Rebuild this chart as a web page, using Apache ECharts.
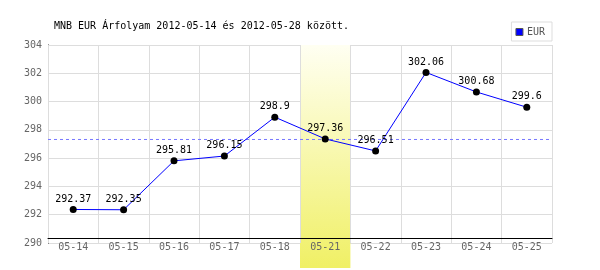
<!DOCTYPE html>
<html>
<head>
<meta charset="utf-8">
<script src="https://cdn.jsdelivr.net/npm/echarts@6/dist/echarts.min.js"></script>
<style>html,body{margin:0;padding:0;background:#fff}#c{width:600px;height:270px}</style>
</head>
<body>
<div id="c"></div>
<script>
const titleText = 'MNB EUR Árfolyam 2012-05-14 és 2012-05-28 között.';
const categories = ['05-14','05-15','05-16','05-17','05-18','05-21','05-22','05-23','05-24','05-25'];
const eurValues = [292.37, 292.35, 295.81, 296.15, 298.9, 297.36, 296.51, 302.06, 300.68, 299.6];
const avgValue = 297.32;
const highlightCategory = '05-21';
const yMin = 290, yMax = 304, yStep = 2;

const mono = '"DejaVu Sans Mono", "Liberation Mono", monospace';
const chart = echarts.init(document.getElementById('c'), null, {renderer: 'canvas'});
chart.setOption({
  animation: false,
  backgroundColor: '#fff',
  title: {
    text: titleText, left: 54, top: 21, padding: 0,
    textStyle: {fontFamily: mono, fontSize: 10, fontWeight: 'normal', color: '#000'}
  },
  legend: {
    data: ['EUR'], right: 48, top: 22, padding: [5, 7, 4, 4],
    borderColor: '#ddd', borderWidth: 1,
    itemWidth: 7, itemHeight: 7, itemGap: 4,
    icon: 'rect',
    itemStyle: {color: '#0000ff', borderColor: '#555', borderWidth: 1},
    textStyle: {fontFamily: mono, fontSize: 10, color: '#555', padding: [0, 0, 0, -1]}
  },
  grid: [
    {left: 48, right: 48, top: 45, bottom: 27},
    {left: 48, right: 48, top: 45, bottom: 2}
  ],
  xAxis: [
    {
      type: 'category', data: categories, gridIndex: 0, offset: -5, z: 2,
      boundaryGap: true,
      axisLine: {show: true, lineStyle: {color: '#000', width: 1}},
      axisTick: {show: false},
      axisLabel: {margin: 4, fontFamily: mono, fontSize: 10, color: '#666'},
      splitLine: {show: true, interval: 0, lineStyle: {color: '#dddddd', width: 1}}
    },
    {
      type: 'category', data: categories, gridIndex: 1, show: false, boundaryGap: true
    },
    {
      type: 'value', gridIndex: 0, min: 0, max: 1, show: false
    }
  ],
  yAxis: [
    {
      type: 'value', gridIndex: 0, min: yMin, max: yMax, interval: yStep, z: 0,
      axisLine: {show: true, lineStyle: {color: '#000', width: 1}},
      axisTick: {show: false},
      axisLabel: {margin: 6, fontFamily: mono, fontSize: 10, color: '#666'},
      splitLine: {show: true, lineStyle: {color: '#dddddd', width: 1}}
    },
    {type: 'value', gridIndex: 1, min: 0, max: 1, show: false}
  ],
  series: [
    {
      type: 'bar', xAxisIndex: 1, yAxisIndex: 1, z: 1, silent: true,
      barWidth: '100%',
      data: categories.map(c => c === highlightCategory ? 1 : null),
      itemStyle: {
        color: new echarts.graphic.LinearGradient(0, 0, 0, 1, [
          {offset: 0, color: '#fffff2'},
          {offset: 1, color: '#f0f065'}
        ])
      }
    },
    {
      name: 'avg', type: 'line', xAxisIndex: 2, yAxisIndex: 0, z: 2, silent: true,
      symbol: 'none',
      data: [[0, avgValue], [1, avgValue]],
      lineStyle: {type: [3, 3], color: '#7777ff', width: 1}
    },
    {
      name: 'EUR', type: 'line', xAxisIndex: 0, yAxisIndex: 0, z: 3,
      data: eurValues,
      symbol: 'circle', symbolSize: 7,
      lineStyle: {color: '#0000ff', width: 1},
      itemStyle: {color: '#000'},
      label: {
        show: true, position: 'top', distance: 2,
        fontFamily: mono, fontSize: 10, color: '#000'
      }
    }
  ]
});
</script>
</body>
</html>
